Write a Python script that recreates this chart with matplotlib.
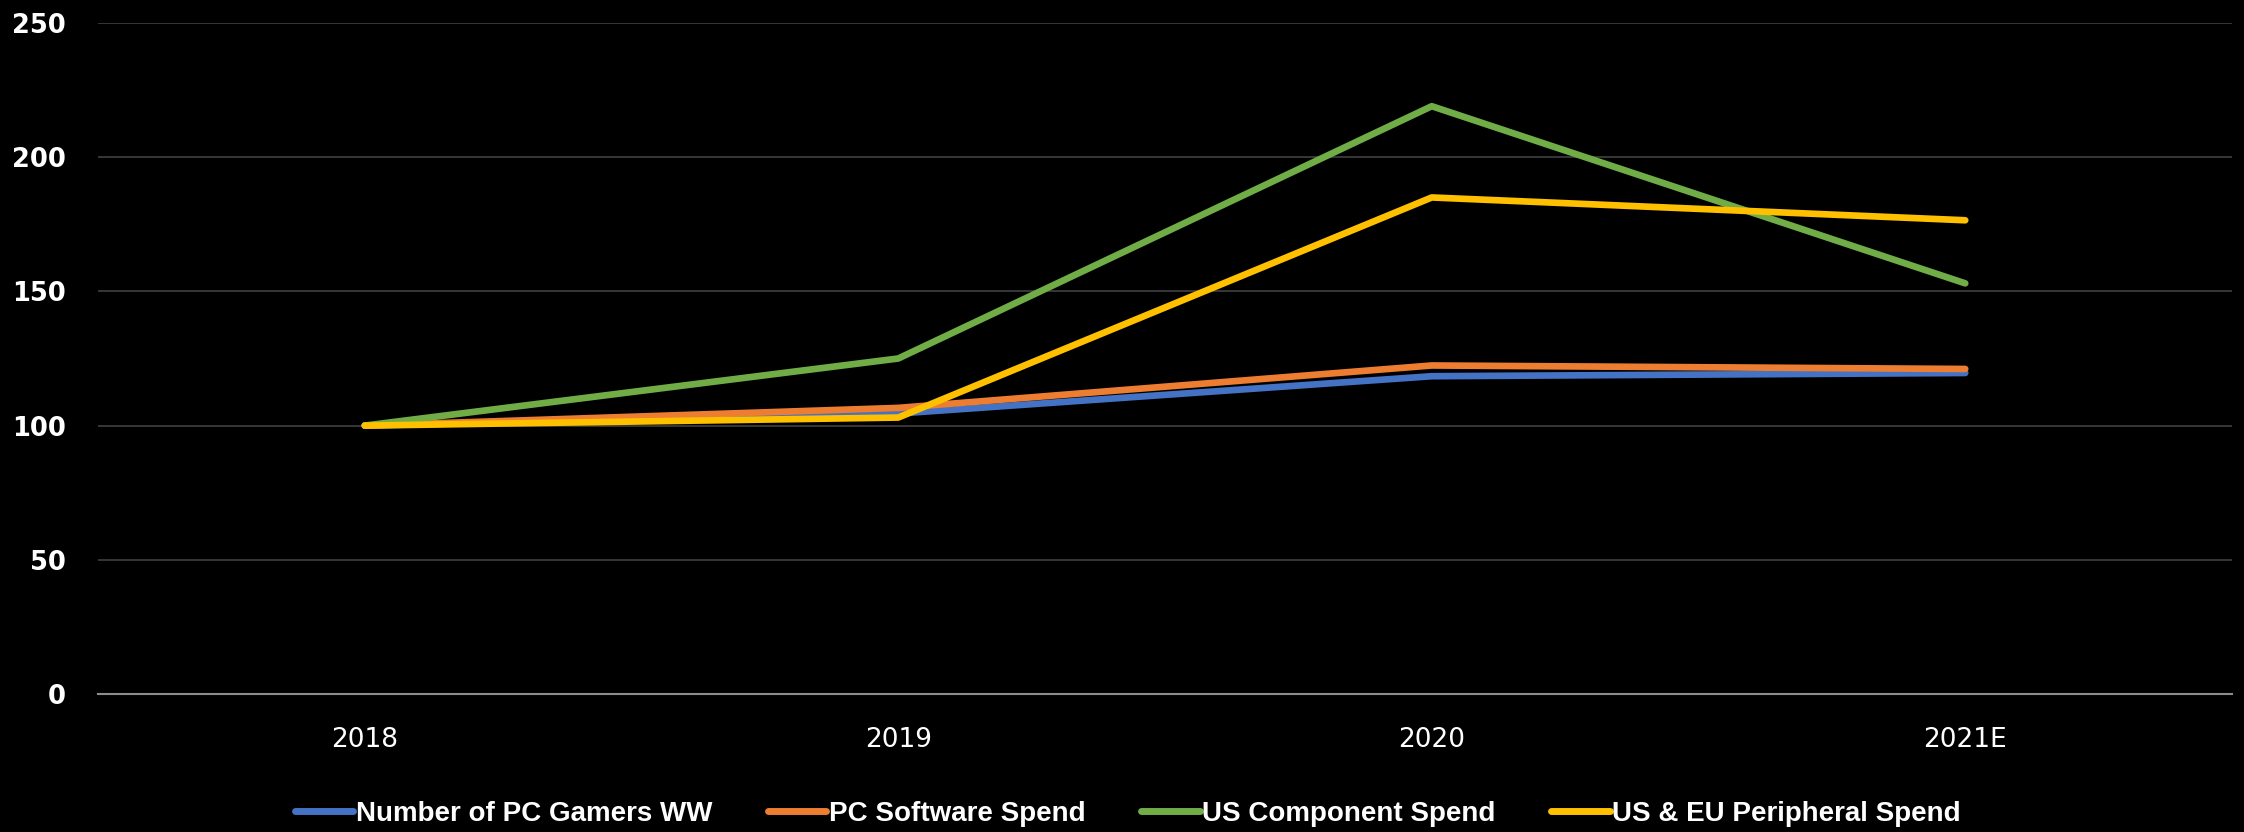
import matplotlib.pyplot as plt
from matplotlib import font_manager

years = ['2018', '2019', '2020', '2021E']
pc_gamers = [100, 104.5, 118.4, 119.6]
pc_software = [100, 106.6, 122.4, 121.1]
us_component = [100, 125, 219, 153]
peripheral = [100, 103, 185, 176.5]

names = ['Number of PC Gamers WW', 'PC Software Spend', 'US Component Spend', 'US & EU Peripheral Spend']
colors = ['#4472C4', '#ED7D31', '#70AD47', '#FFC000']

# condensed font for the legend if we have one
installed = {f.name for f in font_manager.fontManager.ttflist}
legend_font = 'Liberation Sans Narrow' if 'Liberation Sans Narrow' in installed else 'Liberation Sans'

fig = plt.figure(figsize=(22.44, 8.32), dpi=100, facecolor='black')
ax = fig.add_axes([98 / 2244, 1 - 694 / 832, (2232 - 98) / 2244, (694 - 23) / 832])
ax.set_facecolor('black')

x = range(len(years))
for vals, name, c in zip([pc_gamers, pc_software, us_component, peripheral], names, colors):
    ax.plot(x, vals, color=c, lw=4.8, label=name, solid_capstyle='round', solid_joinstyle='round')

ax.set_xlim(-0.5, len(years) - 0.5)
ax.set_ylim(0, 250)
ax.set_yticks(range(0, 251, 50))
ax.set_xticks(list(x))
ax.set_xticklabels(years, fontsize=19, color='white', family='DejaVu Sans')
ax.set_yticklabels([str(v) for v in range(0, 251, 50)], fontsize=18.5, color='white',
                   family='DejaVu Sans', fontweight='bold')
ax.tick_params(length=0)
ax.tick_params(axis='x', pad=24)
ax.tick_params(axis='y', pad=23)

ax.yaxis.grid(True, color='#404040', lw=1.2)
ax.set_axisbelow(True)
for s in ['top', 'right', 'left']:
    ax.spines[s].set_visible(False)
ax.spines['bottom'].set_color('#8c8c8c')
ax.spines['bottom'].set_linewidth(1.5)

leg = fig.legend(loc='lower center', bbox_to_anchor=(0.5026, -0.024), ncol=4, frameon=False,
                 handlelength=2.1, handletextpad=0.1, columnspacing=2.0,
                 prop={'family': legend_font, 'weight': 'bold', 'size': 20})
for t in leg.get_texts():
    t.set_color('white')
for h in leg.legend_handles:
    h.set_linewidth(5)

fig.savefig('out.png', facecolor='black')
